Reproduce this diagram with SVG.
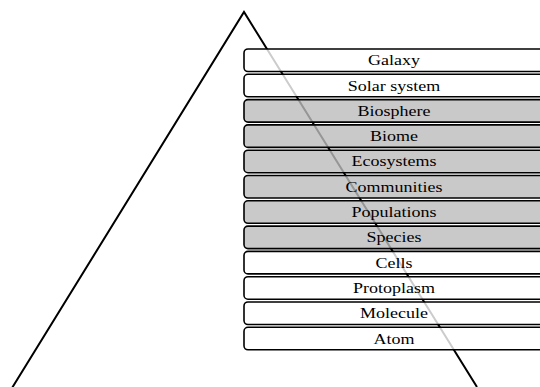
<svg xmlns="http://www.w3.org/2000/svg" width="540" height="387" viewBox="0 0 540 387">
<style>
.box{stroke:#000;stroke-width:1.6;fill-opacity:0.8}
.w{fill:#fff}
.g{fill:#bcbcbc}
.t{font-family:"Liberation Serif","Times New Roman",serif;font-size:15px;fill:#000;text-anchor:middle}
</style>
<rect width="540" height="387" fill="#fff"/>
<g id="connectors">
<polyline points="12,388 244,12 477,387" fill="none" stroke="#000" stroke-width="2"/>
</g>
<g id="galaxy"><rect class="box w" x="244" y="49" width="320" height="22.5" rx="4"/><text class="t" transform="translate(394,65) scale(1.2,1)">Galaxy</text></g>
<g id="solar-system"><rect class="box w" x="244" y="74.3" width="320" height="22.5" rx="4"/><text class="t" transform="translate(394,90.5) scale(1.2,1)">Solar system</text></g>
<g id="biosphere"><rect class="box g" x="244" y="99.6" width="320" height="22.5" rx="4"/><text class="t" transform="translate(394,115.8) scale(1.2,1)">Biosphere</text></g>
<g id="biome"><rect class="box g" x="244" y="124.9" width="320" height="22.5" rx="4"/><text class="t" transform="translate(394,141.1) scale(1.2,1)">Biome</text></g>
<g id="ecosystems"><rect class="box g" x="244" y="150.2" width="320" height="22.5" rx="4"/><text class="t" transform="translate(394,166.4) scale(1.2,1)">Ecosystems</text></g>
<g id="communities"><rect class="box g" x="244" y="175.5" width="320" height="22.5" rx="4"/><text class="t" transform="translate(394,191.7) scale(1.2,1)">Communities</text></g>
<g id="populations"><rect class="box g" x="244" y="200.8" width="320" height="22.5" rx="4"/><text class="t" transform="translate(394,217) scale(1.2,1)">Populations</text></g>
<g id="species"><rect class="box g" x="244" y="226.1" width="320" height="22.5" rx="4"/><text class="t" transform="translate(394,242.3) scale(1.2,1)">Species</text></g>
<g id="cells"><rect class="box w" x="244" y="251.4" width="320" height="22.5" rx="4"/><text class="t" transform="translate(394,267.6) scale(1.2,1)">Cells</text></g>
<g id="protoplasm"><rect class="box w" x="244" y="276.7" width="320" height="22.5" rx="4"/><text class="t" transform="translate(394,292.9) scale(1.2,1)">Protoplasm</text></g>
<g id="molecule"><rect class="box w" x="244" y="302" width="320" height="22.5" rx="4"/><text class="t" transform="translate(394,318.2) scale(1.2,1)">Molecule</text></g>
<g id="atom"><rect class="box w" x="244" y="327.3" width="320" height="22.5" rx="4"/><text class="t" transform="translate(394,343.5) scale(1.2,1)">Atom</text></g>
</svg>
